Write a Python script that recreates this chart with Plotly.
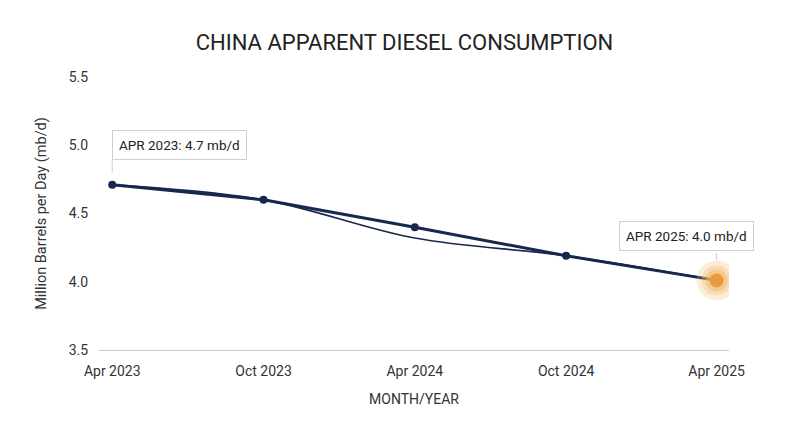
# %% imports

import plotly.graph_objects as go


# %% Data

months = ['2023-04-01', '2023-10-01', '2024-04-01', '2024-10-01', '2025-04-01']
consumption = [4.71, 4.60, 4.40, 4.19, 4.01]
# thinner smoothed line that sags under the main one
consumption_smooth = [4.71, 4.60, 4.32, 4.19, 4.01]

tick_vals = months
tick_text = ['Apr 2023', 'Oct 2023', 'Apr 2024', 'Oct 2024', 'Apr 2025']

callout_first = 'APR 2023: 4.7 mb/d'
callout_last = 'APR 2025: 4.0 mb/d'


# %% Figure

navy = '#16284d'
orange = '#e89b3e'
font = 'Roboto'

fig = go.Figure()

fig.add_trace(go.Scatter(
    x=months, y=consumption_smooth, mode='lines',
    line=dict(color=navy, width=1.6, shape='spline', smoothing=1.0),
    hoverinfo='skip', showlegend=False))

fig.add_trace(go.Scatter(
    x=months, y=consumption, mode='lines+markers',
    line=dict(color=navy, width=3),
    marker=dict(color=navy, size=8),
    showlegend=False))

# glowing highlight on the latest point
for size, opacity in [(40, 0.25), (30, 0.33), (22, 0.5)]:
    fig.add_trace(go.Scatter(
        x=months[-1:], y=consumption[-1:], mode='markers',
        marker=dict(color='#f3b866', size=size, opacity=opacity),
        hoverinfo='skip', showlegend=False))
fig.add_trace(go.Scatter(
    x=months[-1:], y=consumption[-1:], mode='markers',
    marker=dict(color=orange, size=14),
    hoverinfo='skip', showlegend=False))

# Callouts
box = dict(font=dict(family=font, size=13.5, color='#222222'),
           bgcolor='white', bordercolor='#cfcfcf', borderwidth=1, borderpad=6)

fig.add_annotation(x=months[0], y=consumption[0], text=callout_first,
                   showarrow=True, arrowhead=0, arrowcolor='#cfcfcf', arrowwidth=1,
                   ax=0, ay=-25, standoff=12,
                   xanchor='left', yanchor='bottom', **box)

fig.add_annotation(x=months[-1], y=consumption[-1], text=callout_last,
                   showarrow=False, xanchor='center', yanchor='bottom',
                   xshift=-30, yshift=29, **box)
fig.add_annotation(x=months[-1], y=consumption[-1], text='',
                   showarrow=True, arrowhead=0, arrowcolor='#cfcfcf', arrowwidth=1,
                   ax=0, ay=-29, standoff=20)

fig.update_layout(
    width=793, height=432,
    margin=dict(l=91, r=72, t=69, b=90),
    paper_bgcolor='white', plot_bgcolor='white',
    font=dict(family=font, size=14, color='#333333'),
    title=dict(text='CHINA APPARENT DIESEL CONSUMPTION', x=0.5, xanchor='center',
               y=0.92, yanchor='middle',
               font=dict(family=font, size=22, color='#222222')),
)

fig.update_xaxes(
    range=['2023-03-16', '2025-04-16'],
    tickvals=tick_vals, ticktext=tick_text,
    showgrid=False, zeroline=False,
    showline=True, linecolor='#cccccc', linewidth=1,
    ticks='outside', ticklen=8, tickcolor='rgba(0,0,0,0)',
    title=dict(text='MONTH/YEAR', standoff=16, font=dict(size=14)),
    automargin=False,
)

fig.update_yaxes(
    range=[3.5, 5.5], dtick=0.5, tickformat='.1f',
    showgrid=False, zeroline=False, showline=False,
    ticks='outside', ticklen=7, tickcolor='rgba(0,0,0,0)',
    title=dict(text='Million Barrels per Day (mb/d)', standoff=18, font=dict(size=14.5)),
    automargin=False,
)

fig.write_html('out.html')
